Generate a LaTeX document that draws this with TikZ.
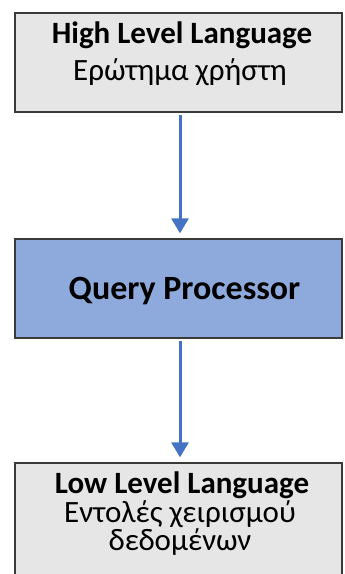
\documentclass[tikz,border=0pt]{standalone}
\usepackage{fontspec}
\setmainfont{Carlito}
\usetikzlibrary{arrows.meta}
\definecolor{boxgray}{HTML}{E7E6E6}
\definecolor{boxblue}{HTML}{8EA9DB}
\definecolor{arrowblue}{HTML}{4472C4}
\definecolor{edgegray}{HTML}{3A3A3A}
\begin{document}
\begin{tikzpicture}[x=1pt,y=-1pt,
  box/.style={draw=edgegray,line width=1.3pt,minimum width=327pt,inner sep=0pt},
  txt/.style={anchor=base,font=\fontsize{31}{36}\selectfont},
  flow/.style={draw=arrowblue,line width=3pt,-{Triangle[length=15pt,width=17pt]},shorten >=5pt,shorten <=2pt}]
\useasboundingbox (0,0) rectangle (345,574);
\clip (0,0) rectangle (345,574);
\node[box,fill=boxgray,minimum height=99pt] (hll) at (178.5,62.5) {};
\node[box,fill=boxblue,minimum height=99pt] (qp) at (178.5,288.5) {};
\node[box,fill=boxgray,minimum height=140pt] (lll) at (178.5,533) {};
\node[txt,font=\fontsize{31}{36}\selectfont\bfseries] (t1) at (182,43) {High Level Language};
\node[txt] (t2) at (180,80) {Ερώτημα χρήστη};
\node[txt,font=\fontsize{34}{40}\selectfont\bfseries] (t3) at (184.5,299) {Query Processor};
\node[txt,font=\fontsize{31}{36}\selectfont\bfseries] (t4) at (182,493) {Low Level Language};
\node[txt] (t5) at (180,522) {Εντολές χειρισμού};
\node[txt] (t6) at (180,550) {δεδομένων};
\draw[flow] (hll.south -| 180,0) -- (qp.north -| 180,0);
\draw[flow] (qp.south -| 180,0) -- (lll.north -| 180,0);
\end{tikzpicture}
\end{document}
